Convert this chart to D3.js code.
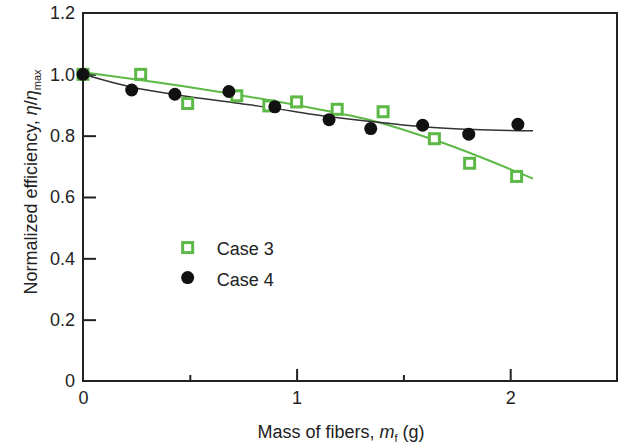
<!DOCTYPE html>
<html>
  <head>
    <meta charset="utf-8">
    <title>Normalized efficiency vs mass of fibers</title>
    <script src="https://d3js.org/d3.v7.min.js"></script>
    <style>
      body { margin: 0; background: #fff; }
      svg { display: block; font-family: "Liberation Sans", Arial, sans-serif; }
      .tick text { font-size: 18px; fill: #222; }
      .tick line { stroke: #222; stroke-width: 2; }
      .domain { display: none; }
      .title { font-size: 18px; fill: #222; }
    </style>
  </head>
  <body>
    <svg id="chart" width="619" height="445"></svg>
    <script>
      // data
      const case3Mass = [0, 0.27, 0.49, 0.72, 0.87, 1.0, 1.19, 1.405, 1.645, 1.81, 2.03];
      const case3Eff = [1.0, 1.0, 0.905, 0.93, 0.897, 0.91, 0.886, 0.878, 0.79, 0.71, 0.667];
      const case4Mass = [0, 0.228, 0.43, 0.683, 0.898, 1.152, 1.347, 1.59, 1.806, 2.036];
      const case4Eff = [1.0, 0.949, 0.935, 0.944, 0.894, 0.852, 0.823, 0.834, 0.805, 0.837];
      // fitted trend lines, traced
      const fit3Mass = [0, 0.5, 1.04, 1.36, 1.67, 2.107];
      const fit3Eff = [1.007, 0.958, 0.894, 0.848, 0.78, 0.66];
      const fit4Mass = [0, 0.23, 0.45, 0.7, 0.9, 1.07, 1.36, 1.59, 1.83, 2.107];
      const fit4Eff = [1.0, 0.958, 0.932, 0.908, 0.889, 0.870, 0.845, 0.829, 0.82, 0.816];
      const yTicks = [0, 0.2, 0.4, 0.6, 0.8, 1.0, 1.2];
      const xTicks = [0, 1, 2];
      const xMinorTicks = [0.5, 1.5];
      const legendItems = ["Case 3", "Case 4"];

      const green = "#5cb946";
      const dark = "#222";

      const svg = d3.select("#chart");
      const x = d3.scaleLinear().domain([0, 2.5]).range([83, 617]);
      const y = d3.scaleLinear().domain([0, 1.2]).range([381, 13]);

      // axes, ticks point inward
      svg.append("g")
        .attr("transform", "translate(" + x(0) + ",0)")
        .call(d3.axisLeft(y)
          .tickValues(yTicks.filter(function(d) { return d > 0 && d < 1.2; }))
          .tickSize(-13)
          .tickPadding(8)
          .tickFormat(d3.format(".1f")));
      // end labels without ticks
      svg.append("g")
        .attr("transform", "translate(" + x(0) + ",0)")
        .call(d3.axisLeft(y)
          .tickValues([0, 1.2])
          .tickSize(0)
          .tickPadding(8)
          .tickFormat(function(d) { return d === 0 ? "0" : d3.format(".1f")(d); }));

      svg.append("g")
        .attr("transform", "translate(0," + y(0) + ")")
        .call(d3.axisBottom(x)
          .tickValues(xTicks)
          .tickSize(-12)
          .tickPadding(10)
          .tickFormat(d3.format("d")));
      svg.append("g")
        .attr("transform", "translate(0," + y(0) + ")")
        .call(d3.axisBottom(x)
          .tickValues(xMinorTicks)
          .tickSize(-6)
          .tickFormat(""));
      svg.selectAll(".tick line").filter(function(d) { return d === 0; }).remove();

      // frame
      svg.append("rect")
        .attr("x", x(0))
        .attr("y", y(1.2))
        .attr("width", x(2.5) - x(0))
        .attr("height", y(0) - y(1.2))
        .attr("fill", "none")
        .attr("stroke", dark)
        .attr("stroke-width", 2);

      // trend lines
      const line = d3.line()
        .x(function(d) { return x(d[0]); })
        .y(function(d) { return y(d[1]); })
        .curve(d3.curveMonotoneX);
      svg.append("path")
        .attr("d", line(d3.zip(fit3Mass, fit3Eff)))
        .attr("fill", "none")
        .attr("stroke", green)
        .attr("stroke-width", 2);
      svg.append("path")
        .attr("d", line(d3.zip(fit4Mass, fit4Eff)))
        .attr("fill", "none")
        .attr("stroke", "#333")
        .attr("stroke-width", 1.5);

      // markers
      const sq = 10;
      svg.selectAll(".case3")
          .data(d3.zip(case3Mass, case3Eff))
        .enter().append("rect")
          .classed("case3", true)
          .attr("x", function(d) { return x(d[0]) - sq / 2; })
          .attr("y", function(d) { return y(d[1]) - sq / 2; })
          .attr("width", sq)
          .attr("height", sq)
          .attr("fill", "#fff")
          .attr("stroke", green)
          .attr("stroke-width", 3);
      svg.selectAll(".case4")
          .data(d3.zip(case4Mass, case4Eff))
        .enter().append("circle")
          .classed("case4", true)
          .attr("cx", function(d) { return x(d[0]); })
          .attr("cy", function(d) { return y(d[1]); })
          .attr("r", 6.5)
          .attr("fill", "#111");

      // legend
      const legend = svg.append("g")
        .attr("transform", "translate(" + x(0.49) + "," + y(0.435) + ")");
      legend.append("rect")
        .attr("x", -sq / 2).attr("y", -sq / 2)
        .attr("width", sq).attr("height", sq)
        .attr("fill", "#fff").attr("stroke", green).attr("stroke-width", 3);
      legend.append("circle")
        .attr("cy", 30).attr("r", 6.5).attr("fill", "#111");
      legend.selectAll("text")
          .data(legendItems)
        .enter().append("text")
          .classed("title", true)
          .attr("x", 29)
          .attr("y", function(d, i) { return i * 31 + 7; })
          .text(function(d) { return d; });

      // axis titles
      const xTitle = svg.append("text")
        .classed("title", true)
        .attr("x", 341)
        .attr("y", 438)
        .attr("text-anchor", "middle");
      xTitle.append("tspan").text("Mass of fibers, ");
      xTitle.append("tspan").attr("font-style", "italic").text("m");
      xTitle.append("tspan").attr("font-size", "11px").attr("dy", 4).text("f");
      xTitle.append("tspan").attr("dy", -4).text(" (g)");

      const yTitle = svg.append("text")
        .classed("title", true)
        .attr("transform", "translate(37,182) rotate(-90)")
        .attr("text-anchor", "middle");
      yTitle.append("tspan").text("Normalized efficiency, ");
      yTitle.append("tspan").attr("font-style", "italic").text("η");
      yTitle.append("tspan").text("/");
      yTitle.append("tspan").attr("font-style", "italic").text("η");
      yTitle.append("tspan").attr("font-size", "11px").attr("dy", 4).text("max");
    </script>
  </body>
</html>
